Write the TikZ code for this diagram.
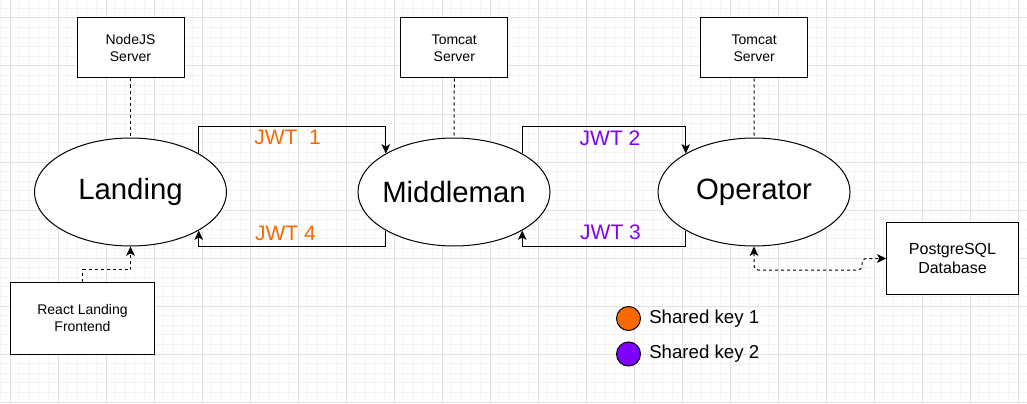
\documentclass[tikz,border=0pt]{standalone}
\usepackage{fontspec}
\setmainfont{Liberation Sans}
\usetikzlibrary{shapes.geometric,arrows.meta}
\definecolor{keyone}{HTML}{FA6800}
\definecolor{keytwo}{HTML}{7F00FF}
\definecolor{gridmajor}{HTML}{E2E2E2}
\definecolor{gridminor}{HTML}{F4F4F4}

\begin{document}
\begin{tikzpicture}[%
        x=0.75pt, y=-0.75pt,
        myapp/.style={shape=ellipse, draw, line width=0.75pt, fill=white,
            minimum width=144pt, minimum height=81pt, inner sep=0pt},
        myname/.style={inner sep=0pt, font=\fontsize{22}{26}\selectfont},
        mybox/.style={shape=rectangle, draw, line width=0.75pt, fill=white,
            align=center, inner sep=0pt, font=\fontsize{10.5}{12.5}\selectfont},
        myjwt/.style={inner sep=0pt, font=\fontsize{15.75}{18}\selectfont},
        mykey/.style={shape=circle, draw, line width=0.75pt, minimum size=18pt,
            inner sep=0pt},
        mylegend/.style={inner sep=0pt, anchor=west, font=\fontsize{14}{16}\selectfont},
        mytip/.tip={Stealth[length=7pt,width=6.5pt,inset=1.8pt]},
        myflow/.style={line width=0.75pt, -mytip},
        mylink/.style={line width=0.75pt, dash pattern=on 2.25pt off 2.25pt}
    ]
        \useasboundingbox (0,0) rectangle (1027,403);
        \fill [white] (0,0) rectangle (1027,403);

        % paper grid
        \foreach \i in {0,...,106}
            \draw [gridminor, line width=0.75pt] ({0.4+9.6*\i},0) -- ({0.4+9.6*\i},403);
        \foreach \i in {0,...,41}
            \draw [gridminor, line width=0.75pt] (0,{8.4+9.6*\i}) -- (1027,{8.4+9.6*\i});
        \foreach \i in {0,...,21}
            \draw [gridmajor, line width=0.75pt] ({10+48*\i},0) -- ({10+48*\i},403);
        \foreach \i in {0,...,8}
            \draw [gridmajor, line width=0.75pt] (0,{18+48*\i}) -- (1027,{18+48*\i});

        % services
        \node [myapp, label={[myname]center:Landing}]   (landing) at (130.5,192) {};
        \node [myapp, label={[myname]center:Middleman}] (middle)  at (454,192)   {};
        \node [myapp, label={[myname]center:Operator}]  (oper)    at (754,192)   {};

        \node [mybox, minimum width=80.25pt, minimum height=45pt]
            (nodejs) at (130.5,48) {NodeJS\\Server};
        \node [mybox, minimum width=80.25pt, minimum height=45pt]
            (tomcata) at (454.3,48) {Tomcat\\Server};
        \node [mybox, minimum width=80.25pt, minimum height=45pt]
            (tomcatb) at (754.2,48) {Tomcat\\Server};
        \node [mybox, minimum width=107.6pt, minimum height=54pt]
            (react) at (82.5,318) {React Landing\\Frontend};
        \node [mybox, minimum width=98.6pt, minimum height=53.5pt,
            font=\fontsize{12}{14}\selectfont]
            (pgsql) at (952.5,258.5) {PostgreSQL\\Database};

        \foreach \s/\t in {nodejs/landing, tomcata/middle, tomcatb/oper}
            \draw [mylink] (\s.south) -- (\t.north);

        % tokens
        \coordinate (top)    at (0,126);
        \coordinate (bottom) at (0,246);
        \coordinate (dbturn) at (862,270);

        \draw [myflow] (landing.north east) -- (landing.north east |- top) -| (middle.north west);
        \draw [myflow] (middle.south west) -- (middle.south west |- bottom) -| (landing.south east);
        \draw [myflow] (middle.north east) -- (middle.north east |- top) -| (oper.north west);
        \draw [myflow] (oper.south west) -- (oper.south west |- bottom) -| (middle.south east);

        \node [myjwt, text=keyone] (jwta) at (287.5,137.5) {JWT\ \ 1};
        \node [myjwt, text=keyone] (jwtd) at (285.5,233)   {JWT 4};
        \node [myjwt, text=keytwo] (jwtb) at (610,138)     {JWT 2};
        \node [myjwt, text=keytwo] (jwtc) at (610.5,232)   {JWT 3};

        \draw [myflow, mylink] (react.north) -- ++(0,-12) -| (landing.south);
        \draw [mylink, rounded corners=3pt, mytip-mytip]
            (oper.south) |- (dbturn) |- (pgsql.west);

        % legend
        \node [mykey, fill=keyone] (keya) at (628.5,318.5) {};
        \node [mykey, fill=keytwo] (keyb) at (628.5,354) {};
        \node [mylegend] (keyalabel) at (649,318.5) {Shared key 1};
        \node [mylegend] (keyblabel) at (649,354)   {Shared key 2};
    \end{tikzpicture}
\end{document}
